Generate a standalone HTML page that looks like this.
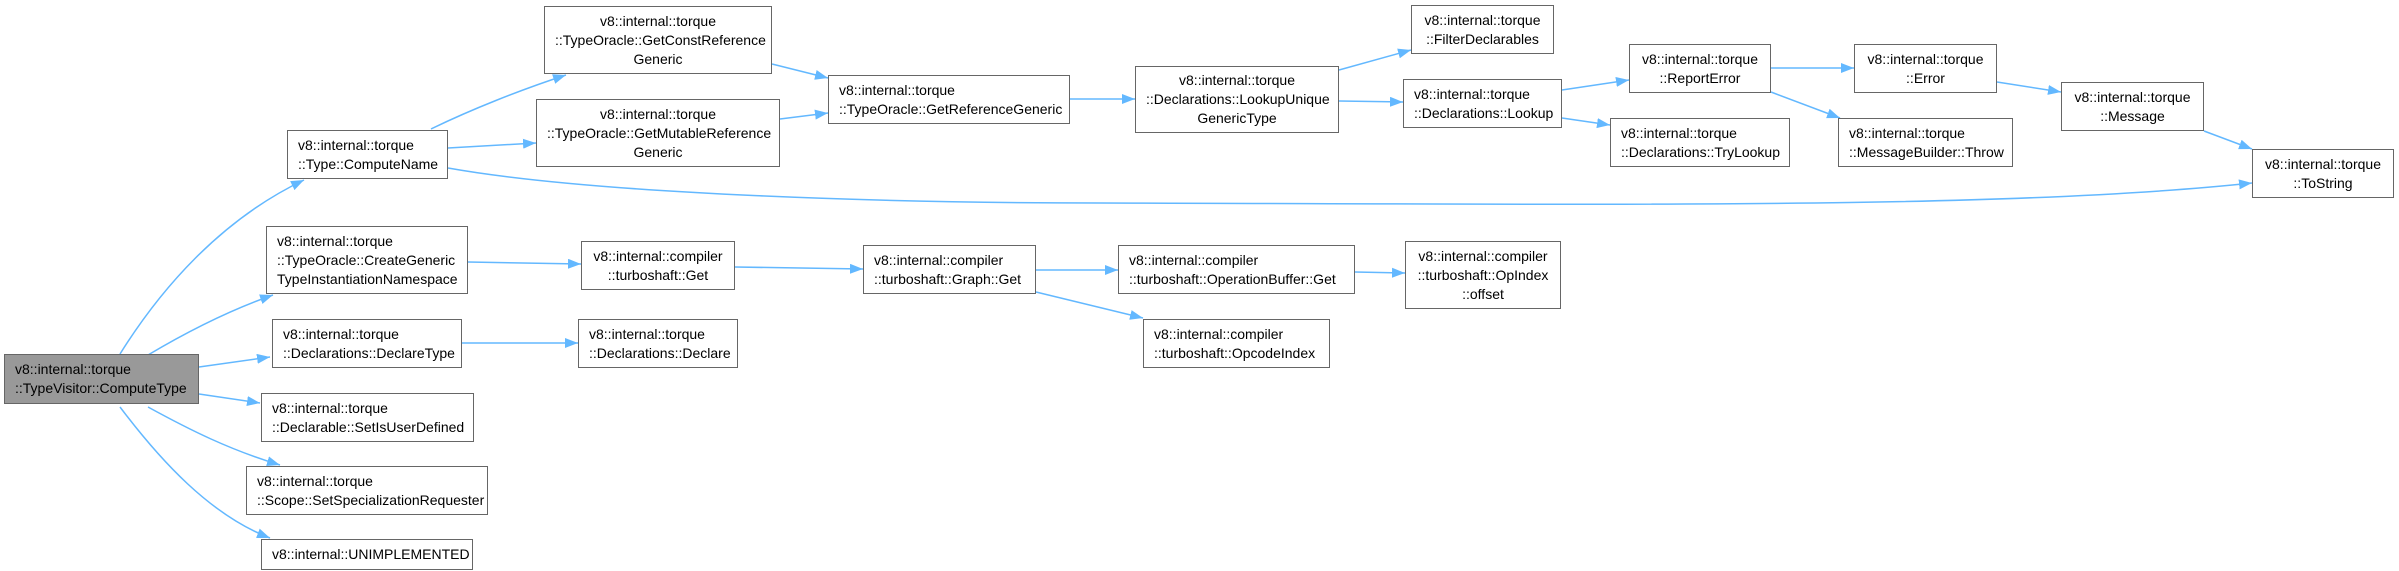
<!DOCTYPE html>
<html><head><meta charset="utf-8"><style>
body{margin:0;width:2399px;height:571px;background:#fff;position:relative;overflow:hidden;font-family:"Liberation Sans",sans-serif;}
.n{position:absolute;box-sizing:border-box;border:1.5px solid #666;background:#fff;font-size:14px;line-height:19px;color:#000;display:flex;flex-direction:column;justify-content:center;padding:0 10px;white-space:nowrap}
.c{text-align:center}
svg{position:absolute;left:0;top:0}
</style></head><body>
<svg width="2399" height="571" viewBox="0 0 2399 571">
<defs><marker id="a" markerUnits="userSpaceOnUse" markerWidth="14" markerHeight="12" refX="13" refY="5" orient="auto"><path d="M0,0 L13,5 L0,10 z" fill="#63b8ff"/></marker></defs>
<g fill="none" stroke="#63b8ff" stroke-width="1.5" marker-end="url(#a)">
<path d="M120,354 C160,290 220,220 304,180"/>
<path d="M148,355 C190,330 230,310 273,295"/>
<path d="M199,367 L270,357"/>
<path d="M199,394 L260,403"/>
<path d="M148,407 C190,430 230,450 280,465"/>
<path d="M120,407 C160,460 210,515 270,538"/>
<path d="M431,129 C470,110 520,90 566,75"/>
<path d="M448,148 L536,143"/>
<path d="M448,168 C600,195 900,203 1100,203 C1600,204 2000,210 2252,183"/>
<path d="M772,64 L828,78"/>
<path d="M780,119 L828,113"/>
<path d="M1070,99 L1135,99"/>
<path d="M1339,70 L1411,50"/>
<path d="M1339,101 L1403,102"/>
<path d="M1562,90 L1629,80"/>
<path d="M1562,118 L1610,125"/>
<path d="M1771,68 L1854,68"/>
<path d="M1771,92 L1840,118"/>
<path d="M1997,82 L2061,92"/>
<path d="M2204,131 L2252,149"/>
<path d="M468,262 L581,264"/>
<path d="M735,267 L863,269"/>
<path d="M1036,270 L1118,270"/>
<path d="M1036,292 L1143,318"/>
<path d="M1355,272 L1405,273"/>
<path d="M462,343 L578,343"/>
</g></svg>
<div class="n" style="left:4px;top:354px;width:195px;height:50px;background:#999">v8::internal::torque<br>::TypeVisitor::ComputeType</div>
<div class="n c" style="left:544px;top:6px;width:228px;height:68px">v8::internal::torque<br>::TypeOracle::GetConstReference<br>Generic</div>
<div class="n c" style="left:536px;top:99px;width:244px;height:68px">v8::internal::torque<br>::TypeOracle::GetMutableReference<br>Generic</div>
<div class="n" style="left:287px;top:130px;width:161px;height:49px">v8::internal::torque<br>::Type::ComputeName</div>
<div class="n" style="left:266px;top:226px;width:202px;height:68px">v8::internal::torque<br>::TypeOracle::CreateGeneric<br>TypeInstantiationNamespace</div>
<div class="n c" style="left:581px;top:241px;width:154px;height:49px">v8::internal::compiler<br>::turboshaft::Get</div>
<div class="n" style="left:272px;top:319px;width:190px;height:49px">v8::internal::torque<br>::Declarations::DeclareType</div>
<div class="n" style="left:578px;top:319px;width:160px;height:49px">v8::internal::torque<br>::Declarations::Declare</div>
<div class="n" style="left:261px;top:393px;width:213px;height:49px">v8::internal::torque<br>::Declarable::SetIsUserDefined</div>
<div class="n" style="left:246px;top:466px;width:242px;height:49px">v8::internal::torque<br>::Scope::SetSpecializationRequester</div>
<div class="n" style="left:261px;top:539px;width:212px;height:31px">v8::internal::UNIMPLEMENTED</div>
<div class="n" style="left:828px;top:75px;width:242px;height:49px">v8::internal::torque<br>::TypeOracle::GetReferenceGeneric</div>
<div class="n c" style="left:1135px;top:66px;width:204px;height:67px">v8::internal::torque<br>::Declarations::LookupUnique<br>GenericType</div>
<div class="n c" style="left:1411px;top:5px;width:143px;height:49px">v8::internal::torque<br>::FilterDeclarables</div>
<div class="n" style="left:1403px;top:79px;width:159px;height:49px">v8::internal::torque<br>::Declarations::Lookup</div>
<div class="n" style="left:863px;top:245px;width:173px;height:49px">v8::internal::compiler<br>::turboshaft::Graph::Get</div>
<div class="n" style="left:1118px;top:245px;width:237px;height:49px">v8::internal::compiler<br>::turboshaft::OperationBuffer::Get</div>
<div class="n c" style="left:1405px;top:241px;width:156px;height:68px">v8::internal::compiler<br>::turboshaft::OpIndex<br>::offset</div>
<div class="n" style="left:1143px;top:319px;width:187px;height:49px">v8::internal::compiler<br>::turboshaft::OpcodeIndex</div>
<div class="n c" style="left:1629px;top:44px;width:142px;height:49px">v8::internal::torque<br>::ReportError</div>
<div class="n c" style="left:1854px;top:44px;width:143px;height:49px">v8::internal::torque<br>::Error</div>
<div class="n c" style="left:2061px;top:82px;width:143px;height:49px">v8::internal::torque<br>::Message</div>
<div class="n c" style="left:2252px;top:149px;width:142px;height:49px">v8::internal::torque<br>::ToString</div>
<div class="n" style="left:1610px;top:118px;width:180px;height:49px">v8::internal::torque<br>::Declarations::TryLookup</div>
<div class="n" style="left:1838px;top:118px;width:175px;height:49px">v8::internal::torque<br>::MessageBuilder::Throw</div>
</body></html>
